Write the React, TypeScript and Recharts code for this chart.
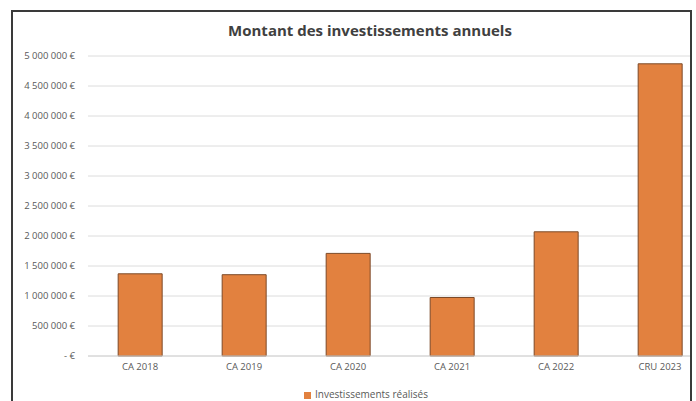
import { BarChart, Bar, XAxis, YAxis, CartesianGrid, Legend } from 'recharts';

const categories = ['CA 2018', 'CA 2019', 'CA 2020', 'CA 2021', 'CA 2022', 'CRU 2023'];
const investissements = [1370000, 1355000, 1710000, 975000, 2070000, 4870000];
const yTicks = [0, 500000, 1000000, 1500000, 2000000, 2500000, 3000000, 3500000, 4000000, 4500000, 5000000];

const data = categories.map((c, i) => ({ name: c, value: investissements[i] }));

const font = '"Open Sans", "Noto Sans", sans-serif';
const fmt = (v: number) => (v === 0 ? '-  €' : String(v).replace(/\B(?=(\d{3})+(?!\d))/g, ' ') + ' €');

export default function App() {
  return (
    <div style={{ position: 'absolute', left: 0, top: 0, width: 696, height: 401, overflow: 'hidden', background: '#fff', fontFamily: font }}>
      <div style={{ position: 'absolute', left: 11, top: 10, width: 681, height: 420, boxSizing: 'border-box', border: '2px solid #3a3a3a', borderBottom: 'none', overflow: 'hidden' }}>
        <div style={{ position: 'absolute', left: -13, top: -12 }}>
          <BarChart width={720} height={401} data={data} margin={{ top: 56, right: 8, bottom: 15, left: 0 }} barCategoryGap="29%">
            <CartesianGrid vertical={false} stroke="#dcdcdc" />
            <XAxis dataKey="name" height={30} tickLine={false} axisLine={{ stroke: '#d4d4d4' }} tickSize={0} tickMargin={7} tick={{ fill: '#595959', fontSize: 9.5, fontFamily: font }} interval={0} />
            <YAxis width={88} domain={[0, 5000000]} ticks={yTicks} tickFormatter={fmt} tickLine={false} axisLine={false} tickSize={0} tickMargin={13} tick={{ fill: '#595959', fontSize: 9.5, fontFamily: font }} interval={0} />
            <Legend layout="horizontal" verticalAlign="middle" align="center" iconType="square" iconSize={7}
              wrapperStyle={{ top: 387, left: 304, width: 'auto', fontSize: 10, color: '#595959', fontFamily: font }}
              formatter={(v: string) => <span style={{ color: '#595959' }}>{v}</span>} />
            <Bar dataKey="value" name="Investissements réalisés" fill="#e2813f" stroke="#7d4a28" strokeWidth={1} isAnimationActive={false} />
          </BarChart>
          <div style={{ position: 'absolute', left: 0, top: 20, width: 740, textAlign: 'center', fontSize: 15, fontWeight: 700, color: '#404040' }}>
            Montant des investissements annuels
          </div>
        </div>
      </div>
    </div>
  );
}
